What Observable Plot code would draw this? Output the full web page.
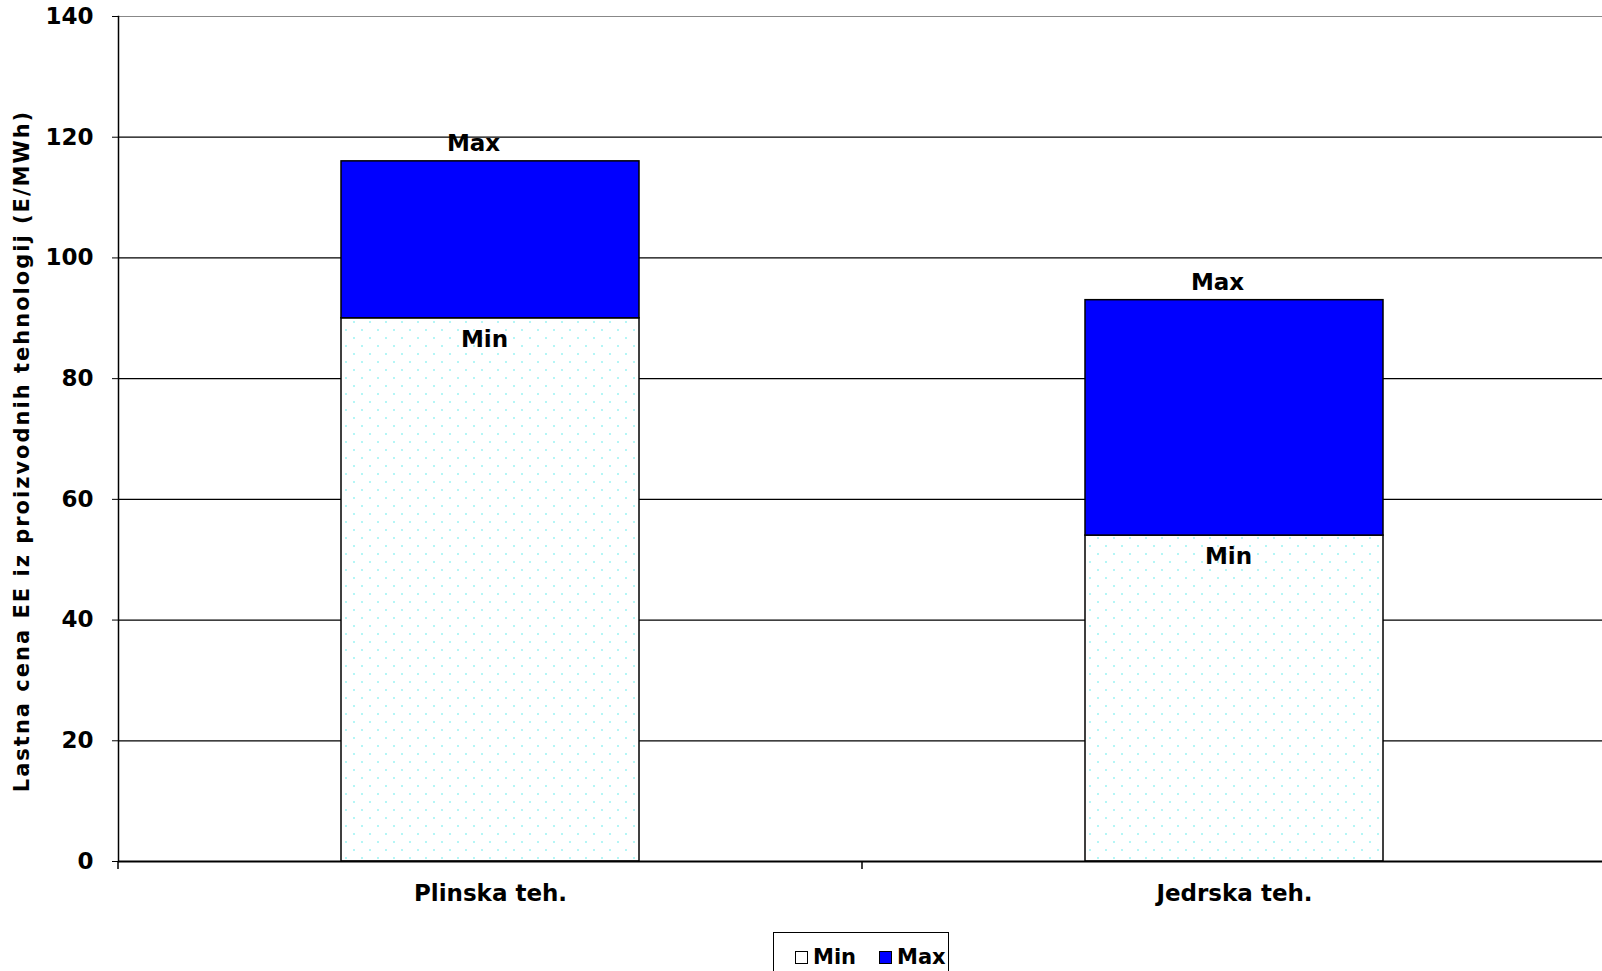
<!DOCTYPE html>
<html>
<head>
<meta charset="utf-8">
<script src="https://cdn.jsdelivr.net/npm/d3@7"></script>
<script src="https://cdn.jsdelivr.net/npm/@observablehq/plot@0.6"></script>
<style>
  body { margin: 0; background: #fff; font-family: "DejaVu Sans", Verdana, sans-serif; }
  #chart { position: relative; }
  #legend {
    position: absolute; left: 773px; top: 932px; width: 176px; height: 50px;
    border: 1.5px solid #000; background: #fff; box-sizing: border-box;
    display: flex; align-items: center; padding-left: 21px;
    font: bold 21px "DejaVu Sans", Verdana, sans-serif; color: #000;
  }
  #legend .item { display: flex; align-items: center; margin-right: 23px; }
  #legend .sw { width: 11px; height: 11px; border: 1px solid #000; margin-right: 5px; }
</style>
</head>
<body>
<svg width="0" height="0" style="position:absolute">
  <defs>
    <pattern id="min-dots" width="16" height="16" patternUnits="userSpaceOnUse">
      <rect width="16" height="16" fill="#fff"></rect>
      <rect x="1" y="1" width="2" height="2" fill="#b4f6f6"></rect>
      <rect x="9" y="9" width="2" height="2" fill="#b4f6f6"></rect>
    </pattern>
  </defs>
</svg>
<div id="chart"></div>
<div id="legend"></div>
<script>
// Production cost of electricity by technology (min / max range)
const categories = ["Plinska teh.", "Jedrska teh."];
const minValues = [90, 54];
const maxValues = [116, 93];
const seriesNames = ["Min", "Max"];
const seriesFills = ["url(#min-dots)", "#0000ff"];
const legendSwatches = ["#ffffff", "#0000ff"];
const yTicks = [0, 20, 40, 60, 80, 100, 120, 140];
const yTitle = "Lastna cena EE iz proizvodnih tehnologij (E/MWh)";

const minRows = categories.map((c, i) => ({category: c, y1: 0, y2: minValues[i]}));
const maxRows = categories.map((c, i) => ({category: c, y1: minValues[i], y2: maxValues[i]}));

const font = {fontFamily: "DejaVu Sans, Verdana, sans-serif", fontWeight: "bold"};

const plot = Plot.plot({
  width: 1602,
  height: 920,
  marginTop: 16,
  marginBottom: 59,
  marginLeft: 118,
  marginRight: -4,
  style: {background: "#fff", color: "#000", overflow: "visible"},
  x: {domain: categories, paddingInner: 0.6, paddingOuter: 0.3, label: null},
  y: {domain: [0, 140], label: null},
  marks: [
    Plot.gridY(yTicks, {stroke: d => d === 140 ? "#888" : "#000", strokeOpacity: 1, strokeWidth: 1.2}),
    Plot.barY(minRows, {x: "category", y1: "y1", y2: "y2", fill: seriesFills[0], stroke: "#000", strokeWidth: 1.5}),
    Plot.barY(maxRows, {x: "category", y1: "y1", y2: "y2", fill: seriesFills[1], stroke: "#000", strokeWidth: 1.5}),
    Plot.ruleY([0], {stroke: "#000", strokeWidth: 2}),
    Plot.frame({anchor: "left", stroke: "#000", strokeWidth: 1.5}),
    Plot.axisY({ticks: yTicks, tickSize: 6, tickPadding: 19, fontSize: 23, ...font, label: null}),
    Plot.axisX({tickSize: 0, tickPadding: 23, fontSize: 23, ...font, label: null}),
    Plot.text(maxRows, {x: "category", y: "y2", text: () => seriesNames[1], dx: -17, dy: -18, fontSize: 23, ...font, fill: "#000"}),
    Plot.text(minRows, {x: "category", y: "y2", text: () => seriesNames[0], dx: -6, dy: 21, fontSize: 23, ...font, fill: "#000"}),
    Plot.text([yTitle], {frameAnchor: "left", textAnchor: "middle", dx: -96, dy: 12, rotate: -90, fontSize: 21, ...font, fill: "#000"})
  ]
});

// Slightly tracked-out axis title
d3.select(plot).selectAll("text")
  .filter(function() { return this.textContent === yTitle; })
  .attr("letter-spacing", 2);

// Category boundary ticks below the baseline, derived from the x band scale
const xs = plot.scale("x");
const ys = plot.scale("y");
const gap = xs.step - xs.bandwidth;
const bounds = categories.map(c => xs.apply(c) - gap / 2);
bounds.push(xs.apply(categories[categories.length - 1]) + xs.bandwidth + gap / 2);
const y0 = ys.apply(0);
d3.select(plot).append("g")
  .selectAll("line").data(bounds).join("line")
  .attr("x1", d => d).attr("x2", d => d)
  .attr("y1", y0).attr("y2", y0 + 8)
  .attr("stroke", "#000").attr("stroke-width", 1.5);

document.getElementById("chart").appendChild(plot);

// Legend
const legend = d3.select("#legend");
seriesNames.forEach((name, i) => {
  const item = legend.append("div").attr("class", "item");
  item.append("div").attr("class", "sw").style("background", legendSwatches[i]);
  item.append("span").text(name);
});
</script>
</body>
</html>
